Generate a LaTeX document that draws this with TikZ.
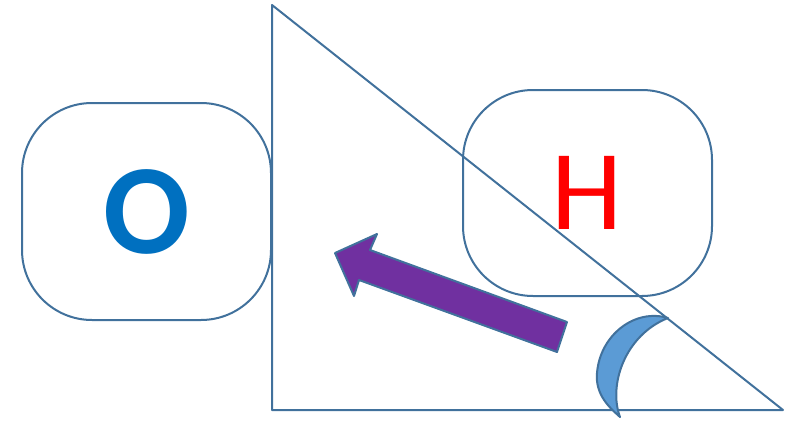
\documentclass[tikz,border=0pt]{standalone}
\usepackage{fontspec}
\setmainfont{Carlito}
\definecolor{outl}{HTML}{41719C}
\definecolor{obl}{HTML}{0070C0}
\definecolor{purp}{HTML}{7030A0}
\definecolor{moonb}{HTML}{5B9BD5}
\begin{document}
\begin{tikzpicture}[x=1pt,y=-1pt,
  rbox/.style={draw=outl,line width=2pt,rounded corners=70pt,inner sep=0pt,
    minimum width=249pt,minimum height=212pt},
  shapeline/.style={draw=outl,line width=2pt,line join=round}]
\useasboundingbox (0,0) rectangle (794,420);
% triangle
\coordinate (t1) at (272,5);
\coordinate (t2) at (272,410);
\coordinate (t3) at (783,410);
\draw[shapeline] (t1) -- (t2) -- (t3) -- cycle;
% boxes
\node[rbox,minimum height=217pt,text=obl,font=\fontsize{128}{128}\bfseries\selectfont] (obox) at (146.5,211.5) {O};
\node[rbox,minimum height=206pt,text=red,font=\fontsize{114}{114}\selectfont] (hbox) at (587.5,193) {H};
% arrow
\coordinate (a1) at (335,253);
\coordinate (a2) at (377,234);
\coordinate (a3) at (370,250);
\coordinate (a4) at (567,322);
\coordinate (a5) at (557,352);
\coordinate (a6) at (359,280);
\coordinate (a7) at (354,296);
\filldraw[shapeline,fill=purp] (a1) -- (a2) -- (a3) -- (a4) -- (a5) -- (a6) -- (a7) -- cycle;
% moon
\coordinate (m1) at (668,318);
\coordinate (m2) at (597,373);
\coordinate (m3) at (620,417);
\filldraw[shapeline,fill=moonb] (m1) .. controls (635,308) and (600,335) .. (m2)
  .. controls (595,395) and (610,408) .. (m3)
  .. controls (608,385) and (625,335) .. (m1) -- cycle;
\end{tikzpicture}
\end{document}
